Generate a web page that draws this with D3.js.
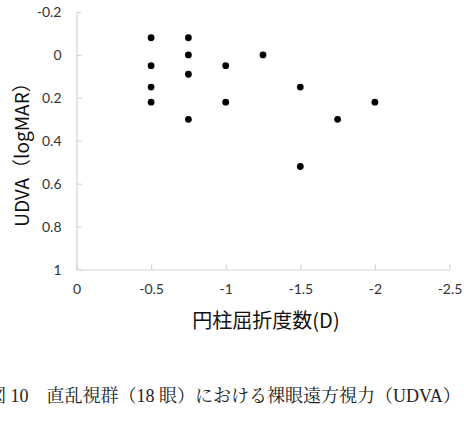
<!DOCTYPE html>
<html>
<head>
<meta charset="utf-8">
<script src="https://cdn.jsdelivr.net/npm/d3@7"></script>
<style>
  body { margin: 0; background: #fff; overflow: hidden; }
  svg { display: block; }
  .tick text { font-family: Lato, "Liberation Sans", sans-serif; font-size: 14px; fill: #333; }
</style>
</head>
<body>
<svg id="chart" width="464" height="432"></svg>
<script>
// cylinder power (D) and UDVA (logMAR) for each eye
let cylinder = [-0.5, -0.5, -0.5, -0.5, -0.75, -0.75, -0.75, -0.75, -1, -1, -1.25, -1.5, -1.5, -1.75, -2];
let udva = [-0.08, 0.05, 0.15, 0.22, -0.08, 0, 0.09, 0.3, 0.05, 0.22, 0, 0.15, 0.52, 0.3, 0.22];

let xTicks = [0, -0.5, -1, -1.5, -2, -2.5];
let xTickLabels = ["0", "-0.5", "-1", "-1.5", "-2", "-2.5"];
let yTicks = [-0.2, 0, 0.2, 0.4, 0.6, 0.8, 1];
let yTickLabels = ["-0.2", "0", "0.2", "0.4", "0.6", "0.8", "1"];

let xTitle = "円柱屈折度数(D)";
let yTitle = "UDVA（logMAR）";
let caption = "図 10　直乱視群（18 眼）における裸眼遠方視力（UDVA）";

let svg = d3.select("#chart");

let xScale = d3.scaleLinear().domain([0, -2.5]).range([76.5, 449.5]);
let yScale = d3.scaleLinear().domain([-0.2, 1]).range([12, 269.5]);

// axes, ticks pointing inside like the original
let xAxis = d3.axisBottom(xScale)
  .tickValues(xTicks)
  .tickFormat((d, i) => xTickLabels[i])
  .tickSizeInner(-5)
  .tickSizeOuter(0)
  .tickPadding(15);
let yAxis = d3.axisLeft(yScale)
  .tickValues(yTicks)
  .tickFormat((d, i) => yTickLabels[i])
  .tickSizeInner(-5)
  .tickSizeOuter(0)
  .tickPadding(15);

let gx = svg.append("g").attr("transform", "translate(0,269.5)").call(xAxis);
let gy = svg.append("g").attr("transform", "translate(76.5,0)").call(yAxis);
[gx, gy].forEach(g => {
  g.select(".domain").attr("stroke", "#d4d4d4").attr("stroke-width", 1.2);
  g.selectAll(".tick line").attr("stroke", "#d4d4d4").attr("stroke-width", 1.2);
});
gx.selectAll(".tick text").attr("dy", "0.65em");
gy.selectAll(".tick text").attr("dy", "0.35em");

// points
svg.append("g")
  .selectAll("circle")
  .data(cylinder)
  .enter().append("circle")
  .attr("cx", d => xScale(d))
  .attr("cy", (d, i) => yScale(udva[i]))
  .attr("r", 3.4)
  .attr("fill", "#000");

// titles
svg.append("text")
  .attr("x", 266).attr("y", 328)
  .attr("text-anchor", "middle")
  .style("font-family", "'Noto Sans CJK JP', sans-serif")
  .style("font-size", "20px")
  .attr("fill", "#111")
  .text(xTitle);

svg.append("text")
  .attr("transform", "translate(29,150) rotate(-90)")
  .attr("text-anchor", "middle")
  .style("font-family", "'Noto Sans CJK JP', sans-serif")
  .style("font-size", "19px")
  .attr("fill", "#111")
  .text(yTitle);

svg.append("text")
  .attr("x", -12).attr("y", 402)
  .style("font-family", "'Liberation Serif', 'Noto Serif CJK JP', 'Noto Sans CJK JP', serif")
  .style("font-size", "18px")
  .attr("fill", "#222")
  .text(caption);
</script>
</body>
</html>
